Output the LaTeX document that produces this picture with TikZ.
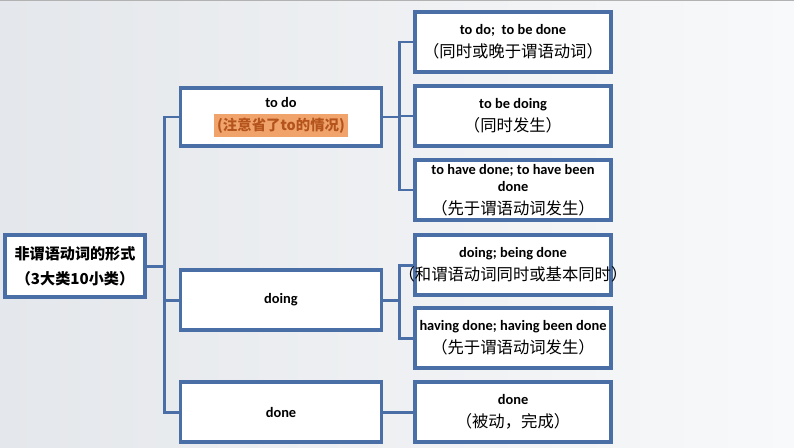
\documentclass[tikz,border=0pt]{standalone}
\usepackage{fontspec}
\setmainfont{Carlito}
\newfontfamily\cjk{Noto Sans CJK SC}
\usepackage{xcolor}
\usetikzlibrary{positioning}

\definecolor{linkblue}{HTML}{4A6FA6}
\definecolor{bgleft}{HTML}{E4E7EB}
\definecolor{bgright}{HTML}{F8F9FA}
\definecolor{hlfill}{HTML}{F0A46C}
\definecolor{hltext}{HTML}{B4541C}

% Chinese line in a leaf box
\newcommand{\zhnote}[1]{{\cjk\mdseries\fontsize{9.3}{12}\selectfont #1}}

\begin{document}
\begin{tikzpicture}[
    x=0.02cm, y=-0.02cm,
    font=\bfseries\fontsize{8.2}{10}\selectfont,
    box/.style={rectangle, draw=linkblue, line width=2pt, fill=white,
                minimum width=#1, minimum height=1.2cm,
                align=center, inner sep=1pt},
    link/.style={draw=linkblue, line width=1.7pt},
]
    % Background
    \fill[left color=bgleft, right color=bgright] (0,0) rectangle (794,447);
    \useasboundingbox (0,0) rectangle (794,447);
    \draw[gray!60, line width=0.6pt] (0,0.5) -- (794,0.5);

    % Root
    \node[box=2.8cm, minimum height=1.24cm, font=\cjk\bfseries\fontsize{8.6}{14}\selectfont]
          (root) at (75,266) {非谓语动词的形式\\（3大类10小类）};

    % Middle column
    \node[box=4.02cm, minimum height=1.16cm] (todo) at (281,117)
          {to do\\[3pt]{\fboxsep=2pt\colorbox{hlfill}{\color{hltext}\cjk (注意省了to的情况)}}};
    \node[box=4.02cm] (doing) at (281,300) {doing};
    \node[box=4.02cm] (done) at (281,412) {done};

    % Right column
    \node[box=3.92cm] (tododone) at (513,42)
          {to do;~ to be done\\[3pt]\zhnote{（同时或晚于谓语动词）}};
    \node[box=3.92cm] (tobedoing) at (513,116)
          {to be doing\\[3pt]\zhnote{（同时发生）}};
    \node[box=3.92cm] (tohavedone) at (513,190)
          {to have done; to have been\\done\\[3pt]\zhnote{（先于谓语动词发生）}};
    \node[box=3.92cm] (beingdone) at (513,265)
          {doing; being done\\[3pt]\makebox[3.6cm]{\zhnote{（和谓语动词同时或基本同时）}}};
    \node[box=3.92cm] (havingdone) at (513,338)
          {having done; having been done\\[3pt]\zhnote{（先于谓语动词发生）}};
    \node[box=3.92cm] (passive) at (513,412)
          {done\\[3pt]\zhnote{（被动，完成）}};

    % Connectors
    \draw[link] (root.east) -- ++(18,0) |- (todo.west);
    \draw[link] (root.east) -- ++(18,0) |- (doing.west);
    \draw[link] (root.east) -- ++(18,0) |- (done.west);

    \draw[link] (todo.east) -- ++(16,0) |- (tododone.west);
    \draw[link] (todo.east) -- ++(16,0) |- (tobedoing.west);
    \draw[link] (todo.east) -- ++(16,0) |- (tohavedone.west);

    \draw[link] (doing.east) -- ++(16,0) |- (beingdone.west);
    \draw[link] (doing.east) -- ++(16,0) |- (havingdone.west);

    \draw[link] (done) -- (passive);
\end{tikzpicture}
\end{document}
